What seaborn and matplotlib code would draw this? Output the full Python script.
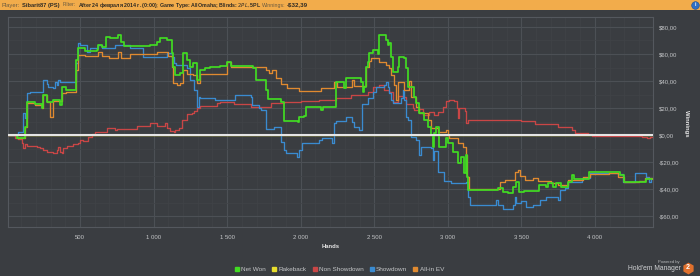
import matplotlib
matplotlib.use("Agg")
import matplotlib.pyplot as plt
from matplotlib.lines import Line2D
from matplotlib.ticker import FuncFormatter, MultipleLocator, FixedLocator
from matplotlib import font_manager
import pandas as pd
import seaborn as sns

# ---------------- data (hands, cumulative winnings $) ----------------
net_won_hands = [10, 70, 125, 138, 193, 241, 247, 275, 316, 363, 377, 404, 472, 486, 534, 616, 622, 650,
                 677, 704, 759, 779, 800, 977, 1025, 1045, 1093, 1127, 1134, 1148, 1182, 1202, 1229, 1250,
                 1270, 1297, 1318, 1352, 1386, 1454, 1502, 1523, 1675, 1693, 1761, 1775, 1863, 1884, 1979,
                 1986, 2020, 2034, 2136, 2150, 2238, 2293, 2307, 2409, 2423, 2429, 2443, 2457, 2463, 2491,
                 2525, 2532, 2579, 2593, 2600, 2613, 2627, 2661, 2668, 2702, 2716, 2729, 2770, 2784, 2804,
                 2838, 2866, 2886, 2900, 2907, 2920, 2941, 2988, 3002, 3036, 3070, 3091, 3111, 3125, 3132,
                 3139, 3343, 3377, 3411, 3445, 3466, 3486, 3520, 3622, 3670, 3684, 3718, 3738, 3772, 3820,
                 3841, 3861, 3963, 4168, 4195, 4345, 4390]
net_won_vals = [0, -2.2, 5.9, 24.4, 23, 20, 29.6, 24.4, 25.9, 22.2, 35.6, 33.3, 55.6, 64.4, 62.2, 63, 66.7, 65.2,
                72.6, 71.9, 74.1, 68.9, 65.9, 66.7, 69.1, 71.9, 70.4, 60.7, 50.4, 44.4, 45.9, 60.7, 55.6, 50.4,
                53.3, 40.7, 48.1, 49.6, 50.4, 51.1, 54.1, 51.1, 49.6, 40.7, 33.3, 26.7, 24.4, 10.4, 9.6,
                13.3, 14.1, 20.7, 18.5, 20.7, 39.3, 34.8, 42.2, 39.3, 31.9, 35.6, 50.4, 54.1, 60.7, 63,
                60, 74.1, 70.4, 66.7, 68.1, 57.8, 46.7, 50.4, 57.8, 57, 49.6, 35.6, 28.1, 23.7, 16.3,
                11.1, 5.9, 0, -8.9, 1.5, 5.9, -8.9, -2.2, -5.9, -12.6, -20.7, -16.3, -28.1, -14.8, -31.1,
                -40.7, -39.3, -42.2, -43, -38.5, -34.8, -42.2, -41.5, -37, -38.5, -35.6, -38.5, -35.6, -38.5, -34.8,
                -29.6, -32.6, -27.4, -29.6, -34.8, -32.4, -32.4]

rakeback_hands = [10, 4390]
rakeback_vals = [0, 0]

non_showdown_hands = [10, 57, 79, 102, 113, 125, 136, 205, 227, 250, 273, 318, 341, 352, 363, 375, 386, 409,
                      454, 488, 500, 522, 556, 580, 602, 682, 727, 738, 750, 886, 977, 1023, 1079, 1091, 1114,
                      1136, 1148, 1170, 1193, 1227, 1261, 1272, 1295, 1318, 1432, 1454, 1545, 1659, 1795, 1886,
                      2000, 2125, 2238, 2341, 2455, 2489, 2534, 2568, 2602, 2625, 2659, 2693, 2716, 2761, 2772,
                      2807, 2829, 2875, 2909, 2932, 2966, 2988, 3011, 3045, 3057, 3062, 3068, 3075, 3114, 3125,
                      3136, 3500, 3591, 3750, 3841, 3864, 3955, 3977, 4318, 4352, 4375, 4390]
non_showdown_vals = [0, -2.2, -3, -6, -9.9, -7, -8, -8.5, -9.9, -11, -12.3, -13, -11, -8.6, -12.5, -13.6, -9.9, -8.1,
                     -6.5, -5.8, -3.7, -4.5, -1.2, 0.5, 2.5, 4.9, 5.5, 3.7, 4.4, 6.7, 8.6, 6.5, 8.6, 4.9, 3,
                     2.5, 4, 5.5, 11.1, 15.6, 16.3, 18, 19.8, 21.5, 23.5, 24.7, 23, 21, 23.5, 24.7,
                     25.3, 25.9, 27.2, 29.6, 32, 35.8, 37, 33.3, 31.5, 24.7, 29, 28, 23, 20, 18.5,
                     19.5, 14.8, 17, 15, 17, 21, 25, 25.9, 25, 25.5, 20, 12.3, 19.8, 18, 8.6,
                     11.3, 10.7, 8.1, 6.2, 3.7, 1.2, 0.7, -0.4, -1.2, -2, -1.5, -1.5]

showdown_hands = [10, 79, 113, 125, 136, 159, 250, 273, 284, 318, 329, 341, 352, 363, 472, 488, 500, 545, 568,
                  625, 648, 738, 841, 931, 1093, 1127, 1136, 1154, 1227, 1250, 1272, 1295, 1306, 1318, 1420,
                  1556, 1659, 1672, 1715, 1727, 1761, 1818, 1863, 1886, 1897, 1977, 1990, 2011, 2125, 2148,
                  2216, 2227, 2238, 2307, 2352, 2363, 2395, 2420, 2455, 2489, 2511, 2566, 2579, 2591, 2602,
                  2613, 2625, 2682, 2693, 2704, 2716, 2731, 2750, 2784, 2807, 2818, 2886, 2898, 2909, 2932,
                  2977, 3023, 3125, 3136, 3148, 3329, 3341, 3375, 3443, 3454, 3466, 3500, 3534, 3579, 3625,
                  3670, 3750, 3761, 3795, 3818, 3909, 3964, 4159, 4193, 4272, 4345, 4365, 4380, 4390]
showdown_vals = [0, 2.5, 16.3, 12.6, 31, 32, 40.7, 37.8, 35.8, 34.8, 39.5, 37, 40.7, 39.5, 53.3, 67.9, 66.7, 61.7, 64.4,
                 66.7, 64.4, 66.7, 64.4, 57.8, 60.7, 58, 53.3, 51.5, 50, 40.7, 33.3, 21, 28.4, 27.2, 25.9,
                 29.6, 28.4, 22, 19.8, 18.5, 4.4, 6, -5, -11, -13.6, -16, -11, -5.6, -3.7, -1.9,
                 -6, 8.6, 10.4, 13.6, 10, 5.6, 3.7, 23, 27.4, 32, 35.8, 37, 39.5, 35.8, 31,
                 26, 23.7, 27.2, 33, 25.9, 13.6, 11, -1.5, -3.7, -14.8, -8.6, -9.9, -18.5, -12, -27.2,
                 -34, -35.6, -35, -45.7, -51.5, -48, -51.5, -54.8, -52, -45.7, -50, -49, -53, -51.5, -48,
                 -45.7, -48, -40.7, -39.5, -34.6, -32, -27.8, -29, -35, -27.8, -31, -35, -32, -32]

allin_ev_hands = [10, 70, 125, 138, 193, 241, 247, 275, 295, 318, 377, 404, 472, 486, 534, 616, 622, 650, 700,
                  759, 779, 841, 977, 1025, 1100, 1127, 1134, 1160, 1182, 1202, 1229, 1270, 1297, 1318, 1420,
                  1502, 1523, 1761, 1782, 1806, 1829, 1863, 1909, 1988, 2136, 2225, 2248, 2352, 2361, 2443,
                  2466, 2477, 2534, 2579, 2602, 2613, 2636, 2647, 2659, 2704, 2738, 2750, 2784, 2807, 2864,
                  2886, 2932, 2988, 3000, 3011, 3068, 3102, 3125, 3132, 3141, 3352, 3386, 3454, 3477, 3488,
                  3522, 3579, 3613, 3704, 3750, 3818, 3920, 3964, 4093, 4160, 4195, 4300, 4340, 4390]
allin_ev_vals = [0, -2.2, 5.9, 23.7, 22, 20, 29.6, 24.4, 13.6, 25.2, 31, 32, 48, 59, 58.5, 58.5, 61.7, 58.5, 57,
                 61.7, 57.4, 60, 60, 61.7, 58.5, 50.4, 38.5, 37, 38.5, 48.1, 45, 44.4, 38.3, 45, 45,
                 54.1, 50.6, 48, 46, 48, 42, 37.8, 34.6, 32.6, 34.6, 39.5, 35.8, 40.7, 36, 50.6,
                 55, 57.4, 54, 52, 50, 44.4, 37, 25.9, 39, 33.3, 40, 28, 21, 16.3, 11.1,
                 5, 2, 3.7, 0, -2, -6, -8.9, -14.8, -31, -40, -34.6, -33, -27.4, -25.9, -30.4,
                 -33.3, -31.9, -34, -35.6, -37, -33.3, -31, -28.9, -28, -31, -34.6, -34, -32, -32.6]

series_names = ["Net Won", "Rakeback", "Non Showdown", "Showdown", "All-in EV"]
series_colors = ["#41dc22", "#e8de2c", "#c94646", "#3a8bd0", "#e08a30"]

y_ticks = [-60, -40, -20, 0, 20, 40, 60, 80]
x_ticks = [500, 1000, 1500, 2000, 2500, 3000, 3500, 4000]

header_parts = [("Player:", False), ("Sibarit87 (PS)", True), ("Filter:", False),
                ("After 24 февраля 2014 г. (0:00); Game Type: AllOmaha; Blinds: $2PL,$5PL", True),
                ("Winnings:", False), ("-$32,39", True)]

# ---------------- style ----------------
BG = "#3a3d41"
GRID = "#4c5055"
GRID_MINOR = "#404347"
SPINE = "#54585e"
TXT = "#c4c6c8"

sns.set_style("dark", {"axes.facecolor": BG, "figure.facecolor": BG})


def have_font(name):
    try:
        font_manager.findfont(name, fallback_to_default=False)
        return True
    except Exception:
        return False


base_font = "Liberation Sans" if have_font("Liberation Sans") else "DejaVu Sans"
plt.rcParams["font.family"] = [base_font, "DejaVu Sans"]

fig = plt.figure(figsize=(7, 2.76), dpi=100, facecolor=BG)
W, H = 700.0, 276.0
ax = fig.add_axes([8 / W, 1 - 227 / H, (653 - 8) / W, (227 - 17) / H])
ax.set_facecolor(BG)

df = pd.concat([
    pd.DataFrame({"Hands": net_won_hands, "Winnings": net_won_vals, "Series": "Net Won"}),
    pd.DataFrame({"Hands": rakeback_hands, "Winnings": rakeback_vals, "Series": "Rakeback"}),
    pd.DataFrame({"Hands": non_showdown_hands, "Winnings": non_showdown_vals, "Series": "Non Showdown"}),
    pd.DataFrame({"Hands": showdown_hands, "Winnings": showdown_vals, "Series": "Showdown"}),
    pd.DataFrame({"Hands": allin_ev_hands, "Winnings": allin_ev_vals, "Series": "All-in EV"}),
], ignore_index=True)

palette = dict(zip(series_names, series_colors))
draw_order = ["Rakeback", "Non Showdown", "Showdown", "All-in EV", "Net Won"]
widths = {"Rakeback": 1.0, "Non Showdown": 0.95, "Showdown": 0.95, "All-in EV": 0.95, "Net Won": 1.25}
for i, name in enumerate(draw_order):
    sub = df[df["Series"] == name]
    sns.lineplot(data=sub, x="Hands", y="Winnings", color=palette[name], estimator=None,
                 sort=False, drawstyle="steps-post", linewidth=widths[name], ax=ax,
                 legend=False, zorder=3 + i * 0.1)

ax.axhline(0, color="#e4e4e4", lw=1.5, zorder=4)

ax.set_xlim(10, 4395)
ax.set_ylim(-68.1, 87.4)

ax.xaxis.set_major_locator(FixedLocator(x_ticks))
ax.xaxis.set_minor_locator(MultipleLocator(100))
ax.yaxis.set_major_locator(FixedLocator(y_ticks))
ax.yaxis.set_minor_locator(MultipleLocator(10))
ax.xaxis.set_major_formatter(FuncFormatter(lambda v, p: f"{int(v):,}".replace(",", " ")))


def money(v, p):
    s = f"{abs(v):.2f}".replace(".", ",")
    return ("-$" if v < 0 else "$") + s


ax.yaxis.set_major_formatter(FuncFormatter(money))
ax.grid(which="major", color=GRID, lw=0.8, zorder=0)
ax.grid(which="minor", color=GRID_MINOR, lw=0.5, zorder=0)
ax.set_axisbelow(True)

ax.yaxis.tick_right()
ax.tick_params(axis="y", which="both", length=0, pad=4, labelsize=4.3, labelcolor=TXT,
               left=False, right=False, labelleft=False, labelright=True)
ax.tick_params(axis="x", which="major", length=3, width=0.6, color=SPINE, pad=3, labelsize=4.3, labelcolor=TXT)
ax.tick_params(axis="x", which="minor", length=1.5, width=0.5, color=SPINE)
for s in ax.spines.values():
    s.set_color(SPINE)
    s.set_linewidth(0.8)

ax.set_xlabel("")
ax.set_ylabel("")
fig.text(330.5 / W, 1 - 247 / H, "Hands", color="#e6e6e6", fontsize=4.2, fontweight="bold",
         ha="center", va="center")
fig.text(687 / W, 1 - 123 / H, "Winnings", color="#e6e6e6", fontsize=4.2, fontweight="bold",
         ha="center", va="center", rotation=270)

# legend
handles = [Line2D([], [], marker="s", ls="", color=c, markersize=2.6) for c in series_colors]
leg = fig.legend(handles, series_names, loc="center", bbox_to_anchor=(339.5 / W, 1 - 269.3 / H),
                 ncol=5, frameon=False, fontsize=4.6, labelcolor=TXT, handlelength=0.6,
                 handletextpad=0.35, columnspacing=1.0, borderaxespad=0, borderpad=0)

# header bar
fig.patches.append(plt.Rectangle((0, 1 - 9.5 / H), 1, 9.5 / H, transform=fig.transFigure,
                                 facecolor="#f2ac4b", edgecolor="none", zorder=0))
x_pos = [2, 22.5, 63, 77.5, 262, 287]
x_end = [20, 60, 76, 258, 285, 308]
renderer = fig.canvas.get_renderer()
for (txt, bold), xp, xe in zip(header_parts, x_pos, x_end):
    t = fig.text(xp / W, 1 - 5 / H, txt, fontsize=4.6,
                 fontweight="bold" if bold else "normal",
                 color="#2e2a24" if bold else "#6a5a40", ha="left", va="center")
    w = t.get_window_extent(renderer=renderer).width
    target = xe - xp
    if w > target:
        t.set_fontsize(4.6 * target / w)

fig.add_artist(Line2D([695 / W], [1 - 4.6 / H], marker="o", markersize=5.5, color="#2f6fc4",
                      markeredgecolor="#1d4f95", markeredgewidth=0.4, transform=fig.transFigure))
fig.text(695 / W, 1 - 4.7 / H, "i", fontsize=3.5, fontweight="bold", color="white",
         ha="center", va="center")

# Powered by Hold'em Manager logo
fig.text(680 / W, 1 - 262.5 / H, "Powered by", fontsize=3.0, color="#b8babc", ha="right", va="center")
fig.text(681 / W, 1 - 268.5 / H, "Hold'em Manager", fontsize=4.9, color="#cfd1d3", ha="right", va="center")
fig.add_artist(Line2D([687.5 / W], [1 - 267.5 / H], marker="h", markersize=8.5, color="#e0702c",
                      markeredgewidth=0, transform=fig.transFigure))
fig.text(687.5 / W, 1 - 267.7 / H, "2", fontsize=5, fontweight="bold", color="white",
         ha="center", va="center")

fig.savefig("out.png", dpi=100, facecolor=BG)
